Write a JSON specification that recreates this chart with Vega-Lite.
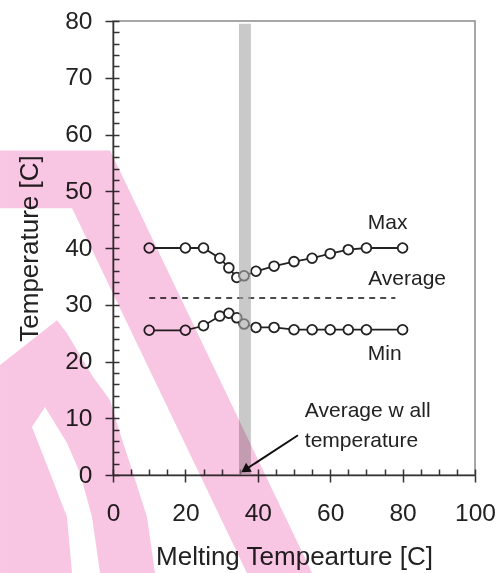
{
  "$schema": "https://vega.github.io/schema/vega-lite/v6.json",
  "width": 362,
  "height": 454,
  "autosize": {"type": "none"},
  "padding": {"left": 113, "top": 21, "right": 29, "bottom": 98},
  "background": "white",
  "config": {
    "font": "Liberation Sans",
    "view": {"stroke": "#8a8a8a", "strokeWidth": 1.5},
    "axis": {"grid": false, "labelFlush": false, "domainColor": "#333", "domainWidth": 1.5, "tickColor": "#333", "tickWidth": 1.5, "labelColor": "#222", "titleColor": "#222", "titleFontWeight": "normal", "labelFont": "Liberation Sans", "titleFont": "Liberation Sans"}
  },
  "datasets": {
    "series": [
      {"melt": 10, "temp": 40.0, "series": "Max"},
      {"melt": 20, "temp": 40.0, "series": "Max"},
      {"melt": 25, "temp": 40.0, "series": "Max"},
      {"melt": 29.5, "temp": 38.2, "series": "Max"},
      {"melt": 32, "temp": 36.5, "series": "Max"},
      {"melt": 34.2, "temp": 34.8, "series": "Max"},
      {"melt": 36.2, "temp": 35.1, "series": "Max"},
      {"melt": 39.5, "temp": 35.9, "series": "Max"},
      {"melt": 44.5, "temp": 36.8, "series": "Max"},
      {"melt": 50, "temp": 37.6, "series": "Max"},
      {"melt": 55, "temp": 38.2, "series": "Max"},
      {"melt": 60, "temp": 39.0, "series": "Max"},
      {"melt": 65, "temp": 39.7, "series": "Max"},
      {"melt": 70, "temp": 40.0, "series": "Max"},
      {"melt": 80, "temp": 40.0, "series": "Max"},
      {"melt": 10, "temp": 25.5, "series": "Min"},
      {"melt": 20, "temp": 25.5, "series": "Min"},
      {"melt": 25, "temp": 26.3, "series": "Min"},
      {"melt": 29.5, "temp": 28.0, "series": "Min"},
      {"melt": 32, "temp": 28.5, "series": "Min"},
      {"melt": 34.2, "temp": 27.7, "series": "Min"},
      {"melt": 36.2, "temp": 26.6, "series": "Min"},
      {"melt": 39.5, "temp": 26.0, "series": "Min"},
      {"melt": 44.5, "temp": 26.0, "series": "Min"},
      {"melt": 50, "temp": 25.6, "series": "Min"},
      {"melt": 55, "temp": 25.6, "series": "Min"},
      {"melt": 60, "temp": 25.6, "series": "Min"},
      {"melt": 65, "temp": 25.6, "series": "Min"},
      {"melt": 70, "temp": 25.6, "series": "Min"},
      {"melt": 80, "temp": 25.6, "series": "Min"}
    ],
    "average": [{"from": 10, "to": 78, "temp": 31.2}],
    "wall": [{"lo": 34.8, "hi": 38.1, "bottom": 0, "top": 79.5}],
    "notes": [
      {"melt": 70.4, "temp": 43.4, "text": "Max"},
      {"melt": 70.5, "temp": 33.45, "text": "Average"},
      {"melt": 70.4, "temp": 20.2, "text": "Min"},
      {"melt": 53.0, "temp": 10.26, "text": "Average w all"},
      {"melt": 53.0, "temp": 5.0, "text": "temperature"}
    ],
    "arrow": [{"melt": 51.1, "temp": 7.0, "melt2": 36.5, "temp2": 0.93}],
    "stripes": [
      {"shape": "a", "i": 0, "melt": -31.2, "temp": 57.2},
      {"shape": "a", "i": 1, "melt": -0.8, "temp": 57.2},
      {"shape": "a", "i": 2, "melt": 55.0, "temp": -17.25},
      {"shape": "a", "i": 3, "melt": 37.0, "temp": -17.25},
      {"shape": "a", "i": 4, "melt": -11.3, "temp": 47.0},
      {"shape": "a", "i": 5, "melt": -31.2, "temp": 47.0},
      {"shape": "b", "i": 0, "melt": -31.2, "temp": 19.37},
      {"shape": "b", "i": 1, "melt": -15.47, "temp": 27.29},
      {"shape": "b", "i": 2, "melt": -12.71, "temp": 25.0},
      {"shape": "b", "i": 3, "melt": -5.52, "temp": 17.25},
      {"shape": "b", "i": 4, "melt": -0.83, "temp": 13.2},
      {"shape": "b", "i": 5, "melt": 1.93, "temp": 7.39},
      {"shape": "b", "i": 6, "melt": 5.52, "temp": 0.35},
      {"shape": "b", "i": 7, "melt": 9.39, "temp": -7.39},
      {"shape": "b", "i": 8, "melt": 11.6, "temp": -17.25},
      {"shape": "b", "i": 9, "melt": -3.59, "temp": -17.25},
      {"shape": "b", "i": 10, "melt": -5.8, "temp": -7.39},
      {"shape": "b", "i": 11, "melt": -9.12, "temp": 0.35},
      {"shape": "b", "i": 12, "melt": -12.71, "temp": 5.63},
      {"shape": "b", "i": 13, "melt": -18.78, "temp": 11.97},
      {"shape": "b", "i": 14, "melt": -22.38, "temp": 8.45},
      {"shape": "b", "i": 15, "melt": -17.4, "temp": 0.35},
      {"shape": "b", "i": 16, "melt": -12.71, "temp": -7.39},
      {"shape": "b", "i": 17, "melt": -11.33, "temp": -17.25},
      {"shape": "b", "i": 18, "melt": -31.2, "temp": -17.25}
    ]
  },
  "resolve": {"axis": {"x": "independent", "y": "independent"}},
  "layer": [
    {
      "data": {"name": "series"},
      "mark": {"type": "line", "color": "#222", "strokeWidth": 1.8},
      "encoding": {
        "x": {"field": "melt", "type": "quantitative", "scale": {"domain": [0, 100], "nice": false},
          "axis": {"orient": "bottom", "values": [0, 20, 40, 60, 80, 100], "tickSize": 7, "labelFontSize": 24.5, "labelPadding": 19, "title": "Melting Tempearture [C]", "titleFontSize": 26, "titlePadding": 19}},
        "y": {"field": "temp", "type": "quantitative", "scale": {"domain": [0, 80], "nice": false},
          "axis": {"orient": "left", "values": [0, 10, 20, 30, 40, 50, 60, 70, 80], "tickSize": 8, "labelFontSize": 24.5, "labelPadding": 13, "title": "Temperature [C]", "titleFontSize": 26, "titlePadding": 22}},
        "detail": {"field": "series"}
      }
    },
    {
      "data": {"name": "series"},
      "mark": {"type": "point", "shape": "circle", "size": 95, "filled": true, "fill": "white", "stroke": "#222", "strokeWidth": 1.8, "opacity": 1},
      "encoding": {
        "x": {"field": "melt", "type": "quantitative",
          "axis": {"orient": "bottom", "values": [0, 5, 10, 15, 20, 25, 30, 35, 40, 45, 50, 55, 60, 65, 70, 75, 80, 85, 90, 95, 100], "tickSize": -6, "labels": false, "domain": false, "title": null}},
        "y": {"field": "temp", "type": "quantitative",
          "axis": {"orient": "left", "values": [0, 2, 4, 6, 8, 10, 12, 14, 16, 18, 20, 22, 24, 26, 28, 30, 32, 34, 36, 38, 40, 42, 44, 46, 48, 50, 52, 54, 56, 58, 60, 62, 64, 66, 68, 70, 72, 74, 76, 78, 80], "tickSize": -6, "labels": false, "domain": false, "title": null}}
      }
    },
    {
      "data": {"name": "average"},
      "mark": {"type": "rule", "color": "#111", "strokeWidth": 1.6, "strokeDash": [6, 5]},
      "encoding": {
        "x": {"field": "from", "type": "quantitative", "axis": null},
        "x2": {"field": "to"},
        "y": {"field": "temp", "type": "quantitative", "axis": null}
      }
    },
    {
      "data": {"name": "wall"},
      "mark": {"type": "rect", "fill": "#a8a8a8", "opacity": 0.62},
      "encoding": {
        "x": {"field": "lo", "type": "quantitative", "axis": null},
        "x2": {"field": "hi"},
        "y": {"field": "bottom", "type": "quantitative", "axis": null},
        "y2": {"field": "top"}
      }
    },
    {
      "data": {"name": "notes"},
      "mark": {"type": "text", "align": "left", "baseline": "alphabetic", "fontSize": 21, "color": "#222", "font": "Liberation Sans"},
      "encoding": {
        "x": {"field": "melt", "type": "quantitative", "axis": null},
        "y": {"field": "temp", "type": "quantitative", "axis": null},
        "text": {"field": "text"}
      }
    },
    {
      "data": {"name": "arrow"},
      "mark": {"type": "rule", "color": "#111", "strokeWidth": 2},
      "encoding": {
        "x": {"field": "melt", "type": "quantitative", "axis": null},
        "y": {"field": "temp", "type": "quantitative", "axis": null},
        "x2": {"field": "melt2"},
        "y2": {"field": "temp2"}
      }
    },
    {
      "data": {"name": "arrow"},
      "mark": {"type": "point", "shape": "triangle-up", "size": 110, "filled": true, "color": "#111", "opacity": 1, "angle": 237},
      "encoding": {
        "x": {"field": "melt2", "type": "quantitative", "axis": null},
        "y": {"field": "temp2", "type": "quantitative", "axis": null}
      }
    },
    {
      "data": {"name": "stripes"},
      "mark": {"type": "line", "fill": "#F8C6E2", "strokeOpacity": 0, "blend": "multiply", "clip": false},
      "encoding": {
        "x": {"field": "melt", "type": "quantitative", "axis": null},
        "y": {"field": "temp", "type": "quantitative", "axis": null},
        "detail": {"field": "shape"},
        "order": {"field": "i", "type": "quantitative"}
      }
    }
  ]
}
